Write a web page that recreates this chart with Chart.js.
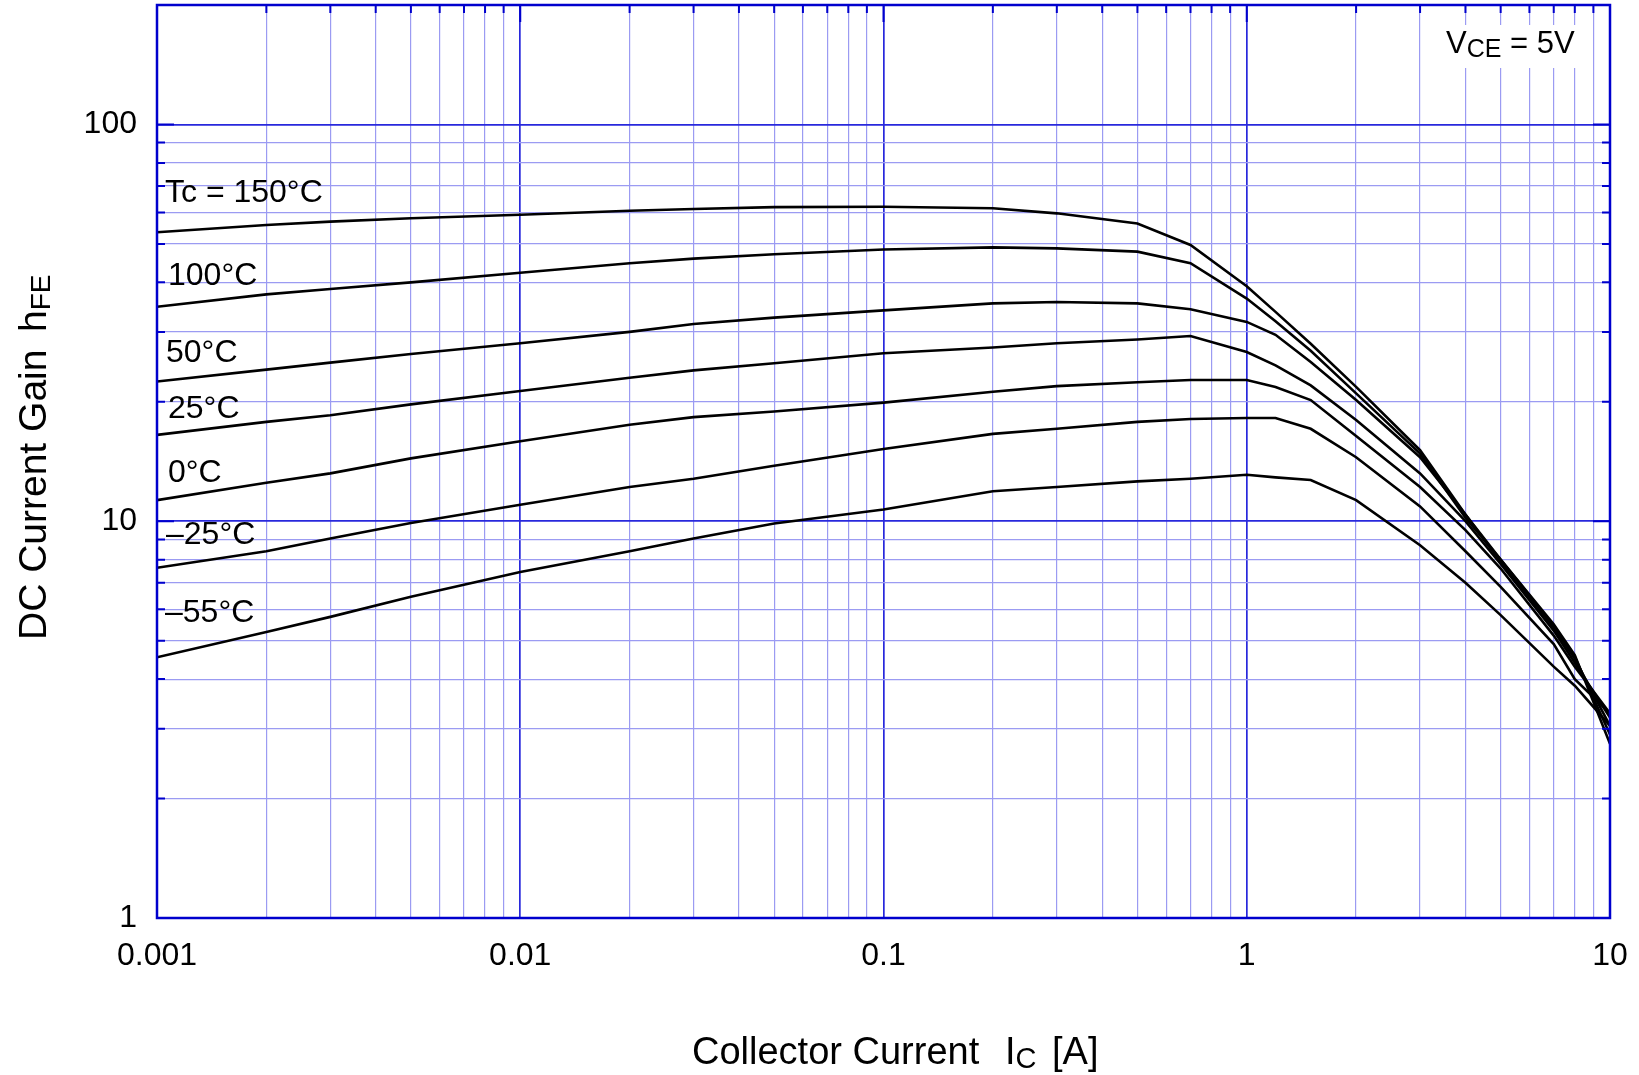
<!DOCTYPE html>
<html>
<head>
<meta charset="utf-8">
<title>DC Current Gain vs Collector Current</title>
<script src="https://cdn.jsdelivr.net/npm/chart.js@4.4.1/dist/chart.umd.min.js"></script>
<style>
  html, body { margin: 0; padding: 0; background: #fff; }
  #wrap { width: 1639px; height: 1075px; }
</style>
</head>
<body>
<div id="wrap"><canvas id="hfeChart" width="1639" height="1075"></canvas></div>
<script>
// Courant collecteur (A), commun à toutes les courbes
var collectorCurrent = [0.001, 0.002, 0.003, 0.005, 0.01, 0.02, 0.03, 0.05, 0.1, 0.2, 0.3, 0.5, 0.7, 1, 1.2, 1.5, 2, 3, 4, 5, 7, 8, 10];

// hFE, une liste par température de boîtier
var gain150 = [53.5, 55.8, 56.9, 58.0, 59.2, 60.6, 61.2, 61.9, 62.0, 61.5, 59.7, 56.3, 49.7, 39.1, 33.7, 28.0, 21.8, 15.1, 10.4, 8.0, 5.5, 4.6, 2.75];
var gain100 = [34.7, 37.3, 38.5, 40.0, 42.3, 44.7, 45.9, 47.1, 48.4, 49.0, 48.7, 47.8, 44.7, 36.4, 31.9, 26.9, 21.0, 14.8, 10.2, 8.0, 5.45, 4.55, 2.9];
var gain50 = [22.5, 24.1, 25.1, 26.4, 28.1, 30.0, 31.4, 32.6, 34.0, 35.4, 35.7, 35.4, 34.2, 31.8, 29.5, 25.2, 20.2, 14.5, 10.4, 7.9, 5.4, 4.5, 3.05];
var gain25 = [16.5, 17.8, 18.5, 19.7, 21.3, 23.0, 24.0, 25.0, 26.5, 27.4, 28.1, 28.7, 29.3, 26.7, 24.7, 22.0, 18.0, 13.2, 10.0, 7.8, 5.3, 4.4, 3.2];
var gain0 = [11.3, 12.5, 13.2, 14.4, 15.9, 17.5, 18.3, 18.9, 19.9, 21.2, 21.9, 22.4, 22.7, 22.7, 21.8, 20.2, 16.4, 12.2, 9.5, 7.6, 5.15, 4.3, 3.28];
var gainM25 = [7.63, 8.4, 9.05, 9.9, 11.0, 12.2, 12.8, 13.8, 15.2, 16.6, 17.1, 17.8, 18.1, 18.2, 18.2, 17.1, 14.5, 10.9, 8.4, 6.83, 4.9, 4.0, 3.28];
var gainM55 = [4.54, 5.26, 5.74, 6.45, 7.45, 8.4, 9.05, 9.87, 10.7, 11.9, 12.2, 12.6, 12.8, 13.1, 12.9, 12.7, 11.3, 8.7, 7.0, 5.8, 4.3, 3.85, 3.05];

var curveLabels = ['Tc = 150°C', '100°C', '50°C', '25°C', '0°C', '–25°C', '–55°C'];
var curveGains = [gain150, gain100, gain50, gain25, gain0, gainM25, gainM55];

// Graduations
var xTickValues = [0.001, 0.01, 0.1, 1, 10];
var xTickLabels = ['0.001', '0.01', '0.1', '1', '10'];
var yTickValues = [1, 10, 100];
var yTickLabels = ['1', '10', '100'];
var yMax = 200;

var FONT = "'Liberation Sans', Arial, Helvetica, sans-serif";
var MAJOR_GRID = 'rgb(40,40,220)';
var MINOR_GRID = 'rgb(155,155,242)';
var FRAME = 'rgb(0,0,205)';

function isDecade(v) {
  var l = Math.log10(v);
  return Math.abs(l - Math.round(l)) < 1e-6;
}

// lignes de grille : 1..9 par décade
function gridValues(decades, last) {
  var out = [];
  decades.forEach(function(d) {
    for (var k = 1; k <= 9; k++) {
      out.push(parseFloat((k * d).toPrecision(6)));
    }
  });
  out.push(last);
  return out;
}
var xGrid = gridValues([0.001, 0.01, 0.1, 1], 10);
var yGrid = gridValues([1, 10], 100).concat([yMax]);

function labelFor(value, values, labels) {
  for (var i = 0; i < values.length; i++) {
    if (Math.abs(Math.log10(value) - Math.log10(values[i])) < 1e-6) return labels[i];
  }
  return '';
}

var datasets = curveGains.map(function(g, i) {
  return {
    label: curveLabels[i],
    data: collectorCurrent.map(function(x, j) { return { x: x, y: g[j] }; }),
    borderColor: '#000',
    borderWidth: 2.6,
    pointRadius: 0,
    tension: 0,
    fill: false
  };
});

// cadre, petits traits intérieurs, textes
var framePlugin = {
  id: 'framePlugin',
  beforeDatasetsDraw: function(chart) {
    var ctx = chart.ctx;
    ctx.save();
    ctx.fillStyle = '#fff';
    ctx.fillRect(1425, 25, 165, 43);
    ctx.restore();
  },
  afterDatasetsDraw: function(chart) {
    var ctx = chart.ctx;
    var a = chart.chartArea;
    var xs = chart.scales.x, ys = chart.scales.y;
    ctx.save();
    ctx.strokeStyle = FRAME;
    ctx.lineWidth = 2;
    ys.ticks.forEach(function(t) {
      var py = ys.getPixelForValue(t.value);
      var len = isDecade(t.value) ? 17 : 8;
      ctx.beginPath();
      ctx.moveTo(a.left, py); ctx.lineTo(a.left + len, py);
      ctx.moveTo(a.right, py); ctx.lineTo(a.right - len, py);
      ctx.stroke();
    });
    xs.ticks.forEach(function(t) {
      var px = xs.getPixelForValue(t.value);
      var len = isDecade(t.value) ? 17 : 8;
      ctx.beginPath();
      ctx.moveTo(px, a.top); ctx.lineTo(px, a.top + len);
      ctx.stroke();
    });
    ctx.lineWidth = 2.5;
    ctx.strokeRect(a.left, a.top, a.right - a.left, a.bottom - a.top);
    ctx.restore();
  },
  afterDraw: function(chart) {
    var ctx = chart.ctx;
    ctx.save();
    ctx.fillStyle = '#000';
    ctx.textBaseline = 'alphabetic';
    ctx.textAlign = 'left';

    // étiquettes des courbes
    var labelPos = [[165, 202], [168, 285], [166, 362], [168, 418], [168, 482], [166, 544], [165, 622]];
    ctx.font = '32px ' + FONT;
    curveLabels.forEach(function(txt, i) {
      ctx.fillText(txt, labelPos[i][0], labelPos[i][1]);
    });

    // VCE = 5V
    ctx.font = '31px ' + FONT;
    ctx.fillText('V', 1446, 53);
    var w = ctx.measureText('V').width;
    ctx.font = '25px ' + FONT;
    ctx.fillText('CE', 1446 + w, 57);
    var w2 = ctx.measureText('CE').width;
    ctx.font = '31px ' + FONT;
    ctx.fillText(' = 5V', 1446 + w + w2, 53);

    // titre axe X
    ctx.font = '38px ' + FONT;
    ctx.fillText('Collector Current', 692, 1064);
    ctx.fillText('I', 1005, 1064);
    var wi = ctx.measureText('I').width;
    ctx.font = '29px ' + FONT;
    ctx.fillText('C', 1005 + wi, 1068);
    ctx.font = '38px ' + FONT;
    ctx.fillText('[A]', 1052, 1064);

    // titre axe Y (vertical)
    ctx.translate(46, 640);
    ctx.rotate(-Math.PI / 2);
    ctx.font = '39px ' + FONT;
    ctx.fillText('DC Current Gain', 0, 0);
    ctx.fillText('h', 308, 0);
    var wh = ctx.measureText('h').width;
    ctx.font = '28px ' + FONT;
    ctx.fillText('FE', 308 + wh, 4);
    ctx.restore();
  }
};

var ctx = document.getElementById('hfeChart').getContext('2d');
var hfeChart = new Chart(ctx, {
  type: 'line',
  data: { datasets: datasets },
  options: {
    responsive: false,
    animation: false,
    devicePixelRatio: 1,
    layout: { padding: { top: 5, right: 29, left: 0, bottom: 0 } },
    plugins: {
      legend: { display: false },
      tooltip: { enabled: false }
    },
    scales: {
      x: {
        type: 'logarithmic',
        min: 0.001,
        max: 10,
        afterBuildTicks: function(scale) {
          scale.ticks = xGrid.map(function(v) { return { value: v }; });
        },
        afterFit: function(scale) {
          scale.height = 157;
          scale.paddingLeft = 0;
          scale.paddingRight = 0;
        },
        grid: {
          drawTicks: false,
          color: function(c) { return c.tick && isDecade(c.tick.value) ? MAJOR_GRID : MINOR_GRID; },
          lineWidth: function(c) { return c.tick && isDecade(c.tick.value) ? 1.7 : 1.2; }
        },
        border: { display: false },
        ticks: {
          autoSkip: false,
          maxRotation: 0,
          padding: 19,
          color: '#000',
          font: { family: FONT, size: 32 },
          callback: function(value) { return labelFor(value, xTickValues, xTickLabels); }
        }
      },
      y: {
        type: 'logarithmic',
        min: 1,
        max: yMax,
        afterBuildTicks: function(scale) {
          scale.ticks = yGrid.map(function(v) { return { value: v }; });
        },
        afterFit: function(scale) {
          scale.width = 157;
          scale.paddingTop = 0;
          scale.paddingBottom = 0;
        },
        grid: {
          drawTicks: false,
          color: function(c) { return c.tick && isDecade(c.tick.value) ? MAJOR_GRID : MINOR_GRID; },
          lineWidth: function(c) { return c.tick && isDecade(c.tick.value) ? 1.7 : 1.2; }
        },
        border: { display: false },
        ticks: {
          autoSkip: false,
          padding: 20,
          color: '#000',
          font: { family: FONT, size: 32 },
          callback: function(value) { return labelFor(value, yTickValues, yTickLabels); }
        }
      }
    }
  },
  plugins: [framePlugin]
});
</script>
</body>
</html>
